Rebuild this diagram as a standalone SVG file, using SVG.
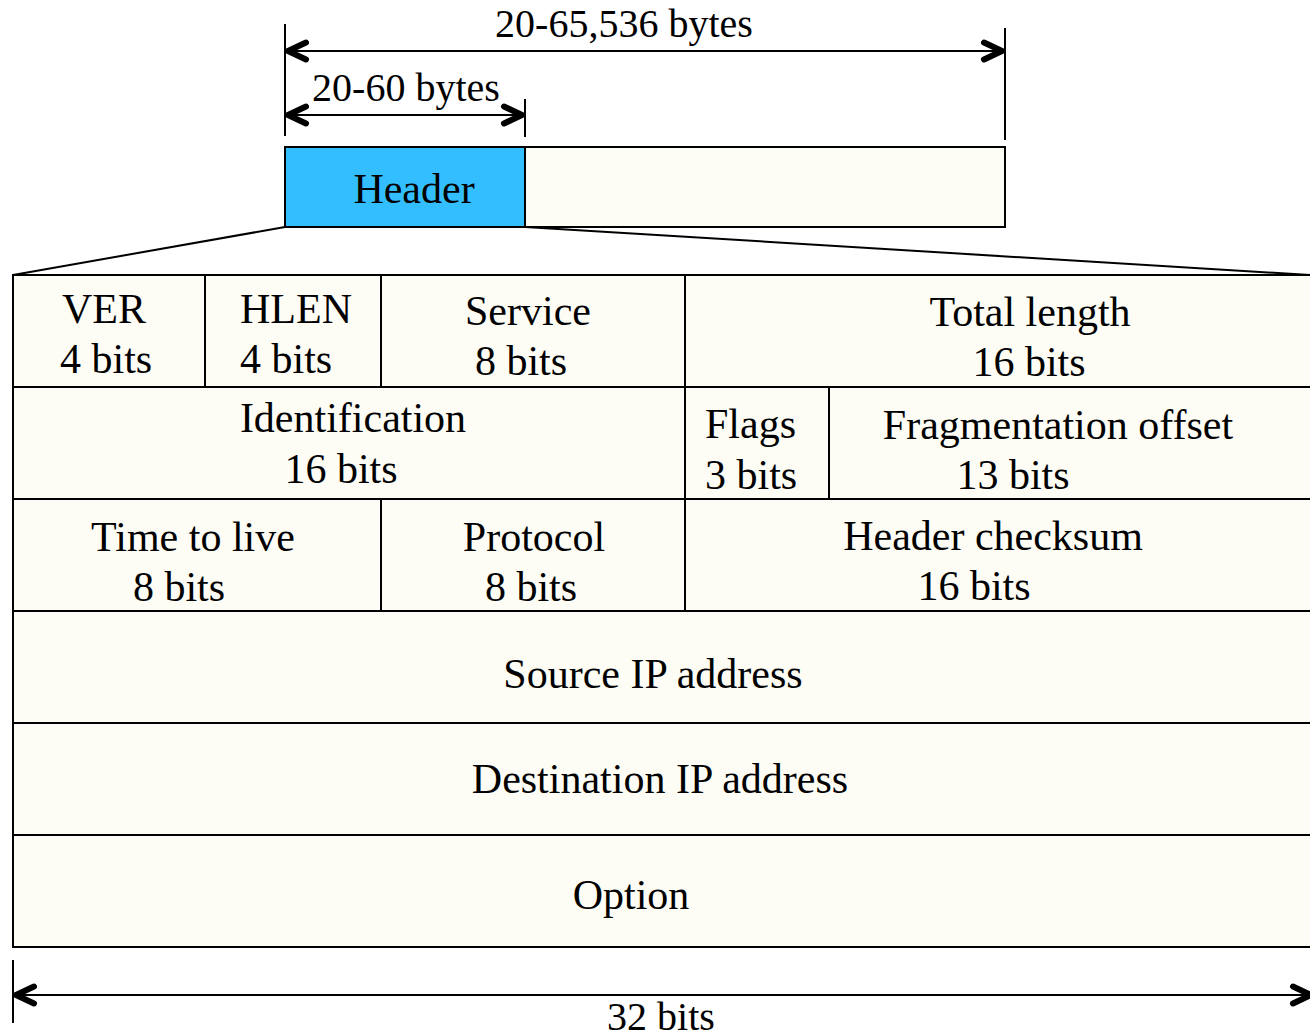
<svg xmlns="http://www.w3.org/2000/svg" width="1310" height="1035" viewBox="0 0 1310 1035">
  <defs>
    <style>
      .cell { fill: #FDFDF6; stroke: #000; stroke-width: 2; }
      .hdr { fill: #33BFFF; stroke: #000; stroke-width: 2; }
      .ln { stroke: #000; stroke-width: 2; fill: none; }
      .dim { stroke: #000; stroke-width: 2; fill: none; marker-start: url(#chev); marker-end: url(#chev); }
      .head { fill: none; stroke: #000; stroke-width: 6; stroke-linecap: round; stroke-linejoin: round; }
      text { font-family: "Liberation Serif", "Times New Roman", serif; fill: #000; }
      .t { font-size: 42px; }
      .s { font-size: 40px; }
      .m { text-anchor: middle; }
    </style>
    <marker id="chev" viewBox="0 0 26 24" refX="21" refY="12" markerWidth="26" markerHeight="24" markerUnits="userSpaceOnUse" orient="auto-start-reverse" overflow="visible">
      <path class="head" d="M3,3.5 L21,12 L3,20.5"/>
    </marker>
  </defs>

  <!-- datagram: header + payload -->
  <g id="datagram">
    <rect class="hdr" x="285" y="147" width="240" height="80"/>
    <rect class="cell" x="525" y="147" width="480" height="80"/>
    <text class="t m" x="414" y="203">Header</text>
  </g>

  <!-- size dimensions -->
  <g id="dimensions">
    <line class="ln" x1="285" y1="24" x2="285" y2="136"/>
    <line class="ln" x1="1005" y1="28" x2="1005" y2="140"/>
    <line class="ln" x1="525" y1="99" x2="525" y2="137"/>
    <line class="dim" x1="288" y1="51" x2="1002" y2="51"/>
    <line class="dim" x1="288" y1="115" x2="522" y2="115"/>
    <text class="s m" x="624" y="37">20-65,536 bytes</text>
    <text class="s m" x="406" y="101">20-60 bytes</text>
  </g>

  <!-- expansion lines from header to field layout -->
  <g id="connectors">
    <line class="ln" x1="285" y1="227" x2="13" y2="275"/>
    <line class="ln" x1="525" y1="227" x2="1310" y2="275"/>
  </g>

  <!-- header field layout -->
  <g id="fields">
    <g id="ver">
      <rect class="cell" x="13" y="275" width="192" height="112"/>
      <text class="t" x="62" y="323">VER</text>
      <text class="t" x="60" y="373">4 bits</text>
    </g>
    <g id="hlen">
      <rect class="cell" x="205" y="275" width="176" height="112"/>
      <text class="t" x="240" y="323">HLEN</text>
      <text class="t" x="240" y="373">4 bits</text>
    </g>
    <g id="service">
      <rect class="cell" x="381" y="275" width="304" height="112"/>
      <text class="t m" x="528" y="325">Service</text>
      <text class="t m" x="521" y="375">8 bits</text>
    </g>
    <g id="total-length">
      <rect class="cell" x="685" y="275" width="630" height="112"/>
      <text class="t m" x="1030" y="326">Total length</text>
      <text class="t m" x="1029" y="376">16 bits</text>
    </g>
    <g id="identification">
      <rect class="cell" x="13" y="387" width="672" height="112"/>
      <text class="t m" x="353" y="432">Identification</text>
      <text class="t m" x="341" y="483">16 bits</text>
    </g>
    <g id="flags">
      <rect class="cell" x="685" y="387" width="144" height="112"/>
      <text class="t" x="705" y="438">Flags</text>
      <text class="t" x="705" y="489">3 bits</text>
    </g>
    <g id="fragmentation-offset">
      <rect class="cell" x="829" y="387" width="486" height="112"/>
      <text class="t m" x="1058" y="439">Fragmentation offset</text>
      <text class="t m" x="1013" y="489">13 bits</text>
    </g>
    <g id="ttl">
      <rect class="cell" x="13" y="499" width="368" height="112"/>
      <text class="t m" x="193" y="551">Time to live</text>
      <text class="t m" x="179" y="601">8 bits</text>
    </g>
    <g id="protocol">
      <rect class="cell" x="381" y="499" width="304" height="112"/>
      <text class="t m" x="534" y="551">Protocol</text>
      <text class="t m" x="531" y="601">8 bits</text>
    </g>
    <g id="checksum">
      <rect class="cell" x="685" y="499" width="630" height="112"/>
      <text class="t m" x="993" y="550">Header checksum</text>
      <text class="t m" x="974" y="600">16 bits</text>
    </g>
    <g id="source">
      <rect class="cell" x="13" y="611" width="1302" height="112"/>
      <text class="t m" x="653" y="688">Source IP address</text>
    </g>
    <g id="destination">
      <rect class="cell" x="13" y="723" width="1302" height="112"/>
      <text class="t m" x="660" y="793">Destination IP address</text>
    </g>
    <g id="option">
      <rect class="cell" x="13" y="835" width="1302" height="112"/>
      <text class="t m" x="631" y="909">Option</text>
    </g>
  </g>

  <!-- width dimension -->
  <g id="width">
    <line class="ln" x1="13" y1="960" x2="13" y2="1023"/>
    <line class="dim" x1="16" y1="995" x2="1311" y2="995"/>
    <text class="s m" x="661" y="1030">32 bits</text>
  </g>
</svg>
